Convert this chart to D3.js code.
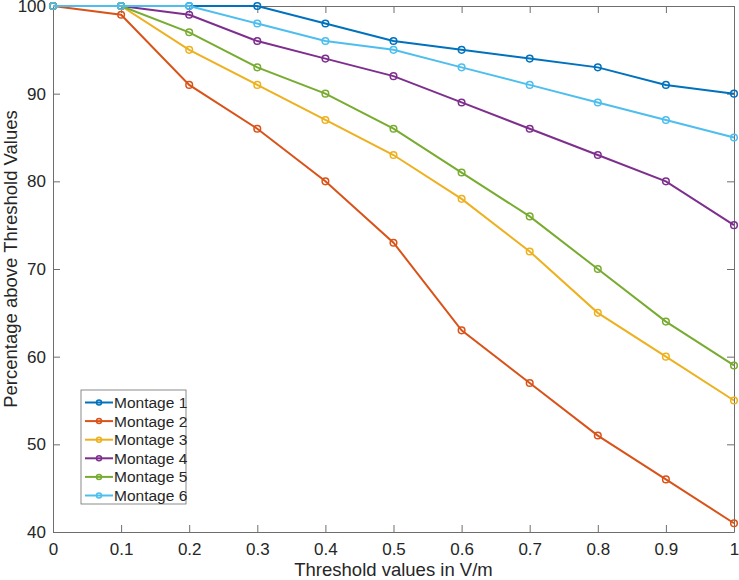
<!DOCTYPE html>
<html>
<head>
<meta charset="utf-8">
<script src="https://cdn.jsdelivr.net/npm/d3@7"></script>
<style>
  body { margin: 0; background: #fff; }
  text { font-family: "Liberation Sans", Arial, sans-serif; fill: #262626; }
</style>
</head>
<body>
<div id="chart"></div>
<script>
// data
const thresholds = [0, 0.1, 0.2, 0.3, 0.4, 0.5, 0.6, 0.7, 0.8, 0.9, 1];
const montage1 = [100, 100, 100, 100, 98, 96, 95, 94, 93, 91, 90];
const montage2 = [100, 99, 91, 86, 80, 73, 63, 57, 51, 46, 41];
const montage3 = [100, 100, 95, 91, 87, 83, 78, 72, 65, 60, 55];
const montage4 = [100, 100, 99, 96, 94, 92, 89, 86, 83, 80, 75];
const montage5 = [100, 100, 97, 93, 90, 86, 81, 76, 70, 64, 59];
const montage6 = [100, 100, 100, 98, 96, 95, 93, 91, 89, 87, 85];
const seriesNames = ["Montage 1", "Montage 2", "Montage 3", "Montage 4", "Montage 5", "Montage 6"];
const seriesValues = [montage1, montage2, montage3, montage4, montage5, montage6];
const colors = ["#0072BD", "#D95319", "#EDB120", "#7E2F8E", "#77AC30", "#4DBEEE"];
const xTicks = [0, 0.1, 0.2, 0.3, 0.4, 0.5, 0.6, 0.7, 0.8, 0.9, 1];
const yTicks = [40, 50, 60, 70, 80, 90, 100];

const width = 739, height = 580;
const margin = {left: 53, right: 5, top: 6, bottom: 48};

let svg = d3.select("#chart")
    .append("svg")
        .attr("width", width)
        .attr("height", height);

let x = d3.scaleLinear().domain([0, 1]).range([margin.left, width - margin.right]);
let y = d3.scaleLinear().domain([40, 100]).range([height - margin.bottom, margin.top]);

const axisColor = "#262626";
const tickLen = 7;

//axes (ticks point inward, box on)
function styleAxis(g) {
    g.select(".domain").attr("stroke", "#6e6e6e").attr("stroke-width", 1);
    g.selectAll(".tick line").attr("stroke", "#6e6e6e");
    g.selectAll(".tick text").style("font-size", "17px").attr("fill", axisColor)
        .style("font-family", "'Liberation Sans', Arial, sans-serif");
}

let fmtX = d => d === 0 ? "0" : d === 1 ? "1" : d3.format(".1f")(d);

svg.append("g")
    .attr("transform", `translate(0, ${y(40)})`)
    .call(d3.axisBottom(x).tickValues(xTicks).tickFormat(fmtX).tickSizeInner(-tickLen).tickSizeOuter(0).tickPadding(11))
    .call(styleAxis);

svg.append("g")
    .attr("transform", `translate(0, ${y(100)})`)
    .call(d3.axisTop(x).tickValues(xTicks).tickFormat("").tickSizeInner(-tickLen).tickSizeOuter(0))
    .call(styleAxis);

svg.append("g")
    .attr("transform", `translate(${x(0)}, 0)`)
    .call(d3.axisLeft(y).tickValues(yTicks).tickSizeInner(-tickLen).tickSizeOuter(0).tickPadding(7))
    .call(styleAxis);

svg.append("g")
    .attr("transform", `translate(${x(1)}, 0)`)
    .call(d3.axisRight(y).tickValues(yTicks).tickFormat("").tickSizeInner(-tickLen).tickSizeOuter(0))
    .call(styleAxis);

//axis labels
svg.append("text")
    .attr("x", (x(0) + x(1)) / 2)
    .attr("y", 576)
    .style("text-anchor", "middle")
    .style("font-size", "18.5px")
    .text("Threshold values in V/m");

svg.append("text")
    .attr("transform", `translate(17, 259) rotate(-90)`)
    .style("text-anchor", "middle")
    .style("font-size", "18.5px")
    .text("Percentage above Threshold Values");

//lines + markers
let line = d3.line()
    .x((d, i) => x(thresholds[i]))
    .y(d => y(d));

seriesValues.forEach(function(vals, s) {
    svg.append("path")
        .datum(vals)
        .attr("d", line)
        .attr("fill", "none")
        .attr("stroke", colors[s])
        .attr("stroke-width", 2);
    svg.selectAll(".m" + s)
        .data(vals)
        .enter()
        .append("circle")
        .attr("cx", (d, i) => x(thresholds[i]))
        .attr("cy", d => y(d))
        .attr("r", 3.3)
        .attr("fill", "none")
        .attr("stroke", colors[s])
        .attr("stroke-width", 1.5);
});

//legend
let leg = svg.append("g").attr("transform", "translate(81, 390)");
leg.append("rect")
    .attr("width", 105)
    .attr("height", 114)
    .attr("fill", "#fff")
    .attr("stroke", "#6e6e6e")
    .attr("stroke-width", 0.8);

seriesNames.forEach(function(name, i) {
    let yy = 12.5 + i * 18.6;
    leg.append("line")
        .attr("x1", 4).attr("x2", 32)
        .attr("y1", yy).attr("y2", yy)
        .attr("stroke", colors[i])
        .attr("stroke-width", 2);
    leg.append("circle")
        .attr("cx", 18).attr("cy", yy).attr("r", 2.5)
        .attr("fill", "none")
        .attr("stroke", colors[i])
        .attr("stroke-width", 1.5);
    leg.append("text")
        .attr("x", 33)
        .attr("y", yy + 5.5)
        .style("font-size", "15.5px")
        .text(name);
});
</script>
</body>
</html>
